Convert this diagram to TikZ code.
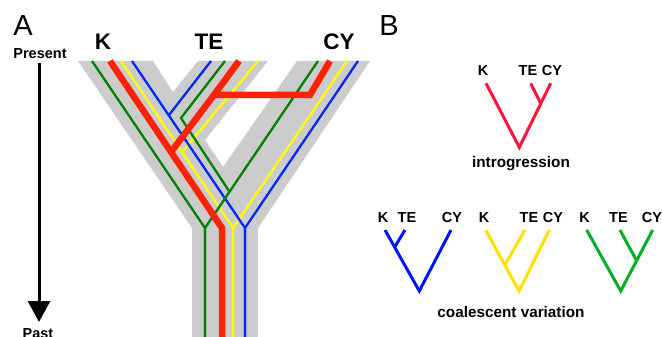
\documentclass[tikz,border=0pt]{standalone}
\usepackage{fontspec}
\setmainfont{Liberation Sans}
\usetikzlibrary{arrows.meta}
\definecolor{ygrey}{RGB}{204,204,204}
\definecolor{lred}{RGB}{255,34,0}
\definecolor{lgreen}{RGB}{0,128,0}
\definecolor{lyellow}{RGB}{255,255,0}
\definecolor{lblue}{RGB}{0,40,255}
\definecolor{tred}{RGB}{255,20,60}
\definecolor{tblue}{RGB}{0,20,255}
\definecolor{tyellow}{RGB}{255,225,0}
\definecolor{tgreen}{RGB}{0,175,40}
\tikzset{
  big/.style={font=\fontsize{22.5}{26}\selectfont\bfseries, anchor=base, inner sep=0pt},
  panel/.style={font=\fontsize{29}{33}\selectfont, anchor=base, inner sep=0pt},
  small/.style={font=\fontsize{14.5}{17}\selectfont\bfseries, anchor=base, inner sep=0pt},
  caption/.style={font=\fontsize{15.3}{18}\selectfont\bfseries, anchor=base, inner sep=0pt},
  lin/.style={line width=2.3pt},
  redlin/.style={line width=6.5pt, draw=lred},
  tree/.style={line width=3pt},
}
\begin{document}
\begin{tikzpicture}[x=1pt,y=-1pt]
\useasboundingbox[fill=white] (0,0) rectangle (662,337);
% ---------- Panel A ----------
\node[panel] (A) at (23,36) {A};
\node[small] (present) at (40,59) {Present};
\node[small] (past) at (38,338.5) {Past};
\coordinate (arrTop) at (39,63);
\coordinate (arrTip) at (39,322);
\draw[line width=3pt, -{Triangle[length=21pt,width=22pt]}] (arrTop) -- (arrTip);

\node[big] (K) at (103,50) {K};
\node[big] (TE) at (209,50) {TE};
\node[big] (CY) at (339,50) {CY};

% grey species tree
\fill[ygrey] (78,61) -- (153,61) -- (173,92) -- (198,61) -- (268,61) -- (205,140)
  -- (223,167) -- (297,61) -- (370,61) -- (258,228) -- (258,337) -- (192,337)
  -- (192,228) -- cycle;

% yellow lineages
\coordinate (yK) at (121,61); \coordinate (yTE) at (258,61); \coordinate (yCY) at (347,61);
\coordinate (yJ1) at (182,152); \coordinate (yJ2) at (233,228); \coordinate (yB) at (233,337);
\draw[lin, lyellow] (yK) -- (yJ2) -- (yB);
\draw[lin, lyellow] (yTE) -- (yJ1);
\draw[lin, lyellow] (yCY) -- (yJ2) -- (yB);

% blue lineages
\coordinate (bK) at (132,61); \coordinate (bTE) at (211,61); \coordinate (bCY) at (358,61);
\coordinate (bJ1) at (169,115); \coordinate (bJ2) at (245,228); \coordinate (bB) at (245,337);
\draw[lin, lblue] (bK) -- (bJ2) -- (bB);
\draw[lin, lblue] (bTE) -- (bJ1);
\draw[lin, lblue] (bCY) -- (bJ2) -- (bB);

% green lineages
\coordinate (gK) at (92,61); \coordinate (gTE) at (225,61); \coordinate (gCY) at (318,61);
\coordinate (gT) at (181,118); \coordinate (gJ1) at (229,191); \coordinate (gJ2) at (205,228);
\coordinate (gB) at (205,337);
\draw[lin, lgreen] (gK) -- (gJ2) -- (gB);
\draw[lin, lgreen] (gTE) -- (gT) -- (gJ1);
\draw[lin, lgreen] (gCY) -- (gJ2) -- (gB);

% red lineages (introgression)
\coordinate (rK) at (110,61); \coordinate (rTE) at (239,61); \coordinate (rCY) at (330,61);
\coordinate (rH1) at (214,95); \coordinate (rH2) at (310,95); \coordinate (rJ1) at (171,152);
\coordinate (rJ2) at (222,228); \coordinate (rB) at (222,337);
\draw[redlin] (rK) -- (rJ2) -- (rB);
\draw[redlin] (rTE) -- (rH1) -- (rJ1);
\draw[redlin] (rCY) -- (rH2) -- (rH1);

% ---------- Panel B ----------
\node[panel] (B) at (389,36) {B};

% introgression tree
\node[small] (iK) at (483,76) {K};
\node[small] (iTE) at (528,76) {TE};
\node[small] (iCY) at (552,76) {CY};
\coordinate (iKl) at (486,83.3); \coordinate (iTEl) at (530.7,83.3); \coordinate (iCYl) at (550.7,83.3);
\coordinate (iR) at (519.3,147.3); \coordinate (iJ) at (540.6,103.3);
\draw[tree, tred] (iKl) -- (iR) -- (iCYl);
\draw[tree, tred] (iTEl) -- (iJ);
\node[caption] (intro) at (521,167) {introgression};

% blue tree
\node[small] (bk) at (383,222) {K};
\node[small] (bte) at (407,222) {TE};
\node[small] (bcy) at (452,222) {CY};
\coordinate (bKl) at (385,230); \coordinate (bTEl) at (405,230); \coordinate (bCYl) at (451,230);
\coordinate (bR) at (419.3,291); \coordinate (bJ) at (394.5,247.3);
\draw[tree, tblue] (bKl) -- (bR) -- (bCYl);
\draw[tree, tblue] (bTEl) -- (bJ);

% yellow tree
\node[small] (yk) at (484,222) {K};
\node[small] (yte) at (529,222) {TE};
\node[small] (ycy) at (553,222) {CY};
\coordinate (yKl) at (485.7,230); \coordinate (yTEl) at (525,230); \coordinate (yCYl) at (549.3,230);
\coordinate (yR) at (519,291); \coordinate (yJ) at (504.8,265);
\draw[tree, tyellow] (yKl) -- (yR) -- (yCYl);
\draw[tree, tyellow] (yTEl) -- (yJ);

% green tree
\node[small] (gk) at (584.5,222) {K};
\node[small] (gte) at (618.5,222) {TE};
\node[small] (gcy) at (652,222) {CY};
\coordinate (gKl) at (586.7,230); \coordinate (gTEl) at (620,230); \coordinate (gCYl) at (652.7,230);
\coordinate (gR) at (620.7,291); \coordinate (gJ) at (636.6,260.7);
\draw[tree, tgreen] (gKl) -- (gR) -- (gCYl);
\draw[tree, tgreen] (gTEl) -- (gJ);

\node[caption] (coal) at (511,317) {coalescent variation};
\end{tikzpicture}
\end{document}
